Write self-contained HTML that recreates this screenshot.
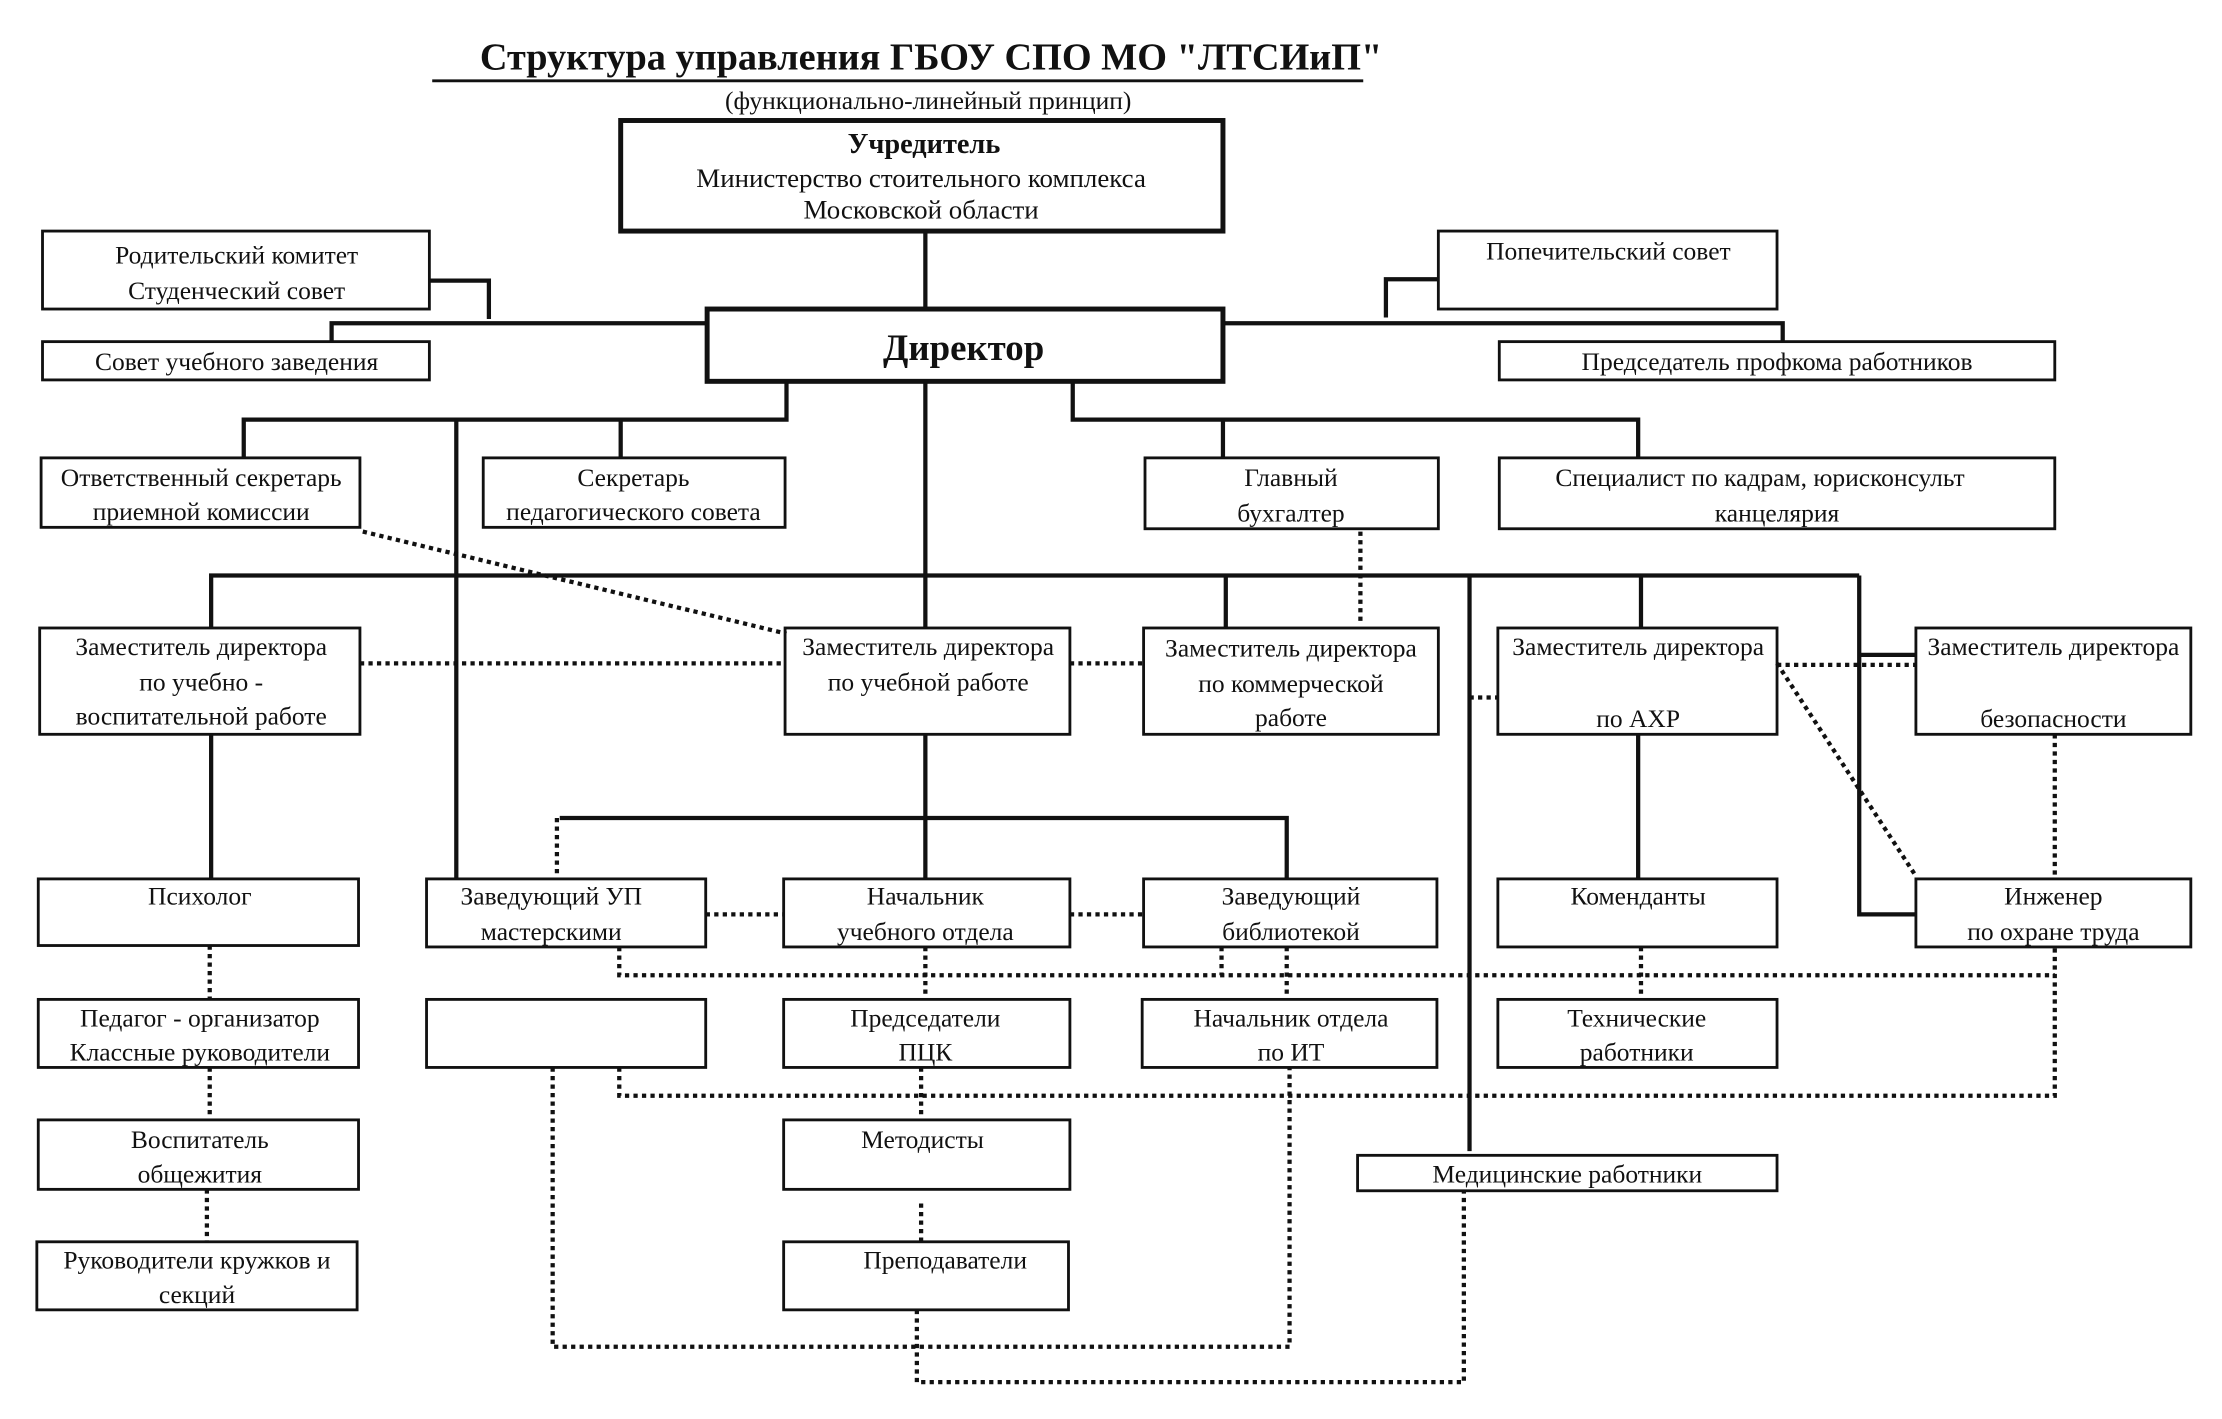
<!DOCTYPE html>
<html><head><meta charset="utf-8">
<style>
html,body{margin:0;padding:0;background:#fff;}
svg{display:block;}
text{font-family:"Liberation Serif","Noto Serif CJK SC",serif;font-size:18px;fill:#111;text-anchor:middle;}
.b{fill:none;stroke:#111;stroke-width:2;}
.bt{fill:none;stroke:#111;stroke-width:3.5;}
.s{fill:none;stroke:#111;stroke-width:3;}
.d{fill:none;stroke:#111;stroke-width:3;stroke-dasharray:3 3;}
</style></head>
<body>
<svg width="2222" height="1419" viewBox="0 0 1568 1001" preserveAspectRatio="none">
<rect width="1568" height="1001" fill="#fff"/>
<text x="657" y="49" style="font-size:27px;font-weight:bold">Структура управления ГБОУ СПО МО "ЛТСИиП"</text>
<line x1="305" y1="57" x2="962" y2="57" stroke="#111" stroke-width="2"/>
<text x="655" y="77" style="font-size:18px">(функционально-линейный принцип)</text>

<g class="s">
<path d="M653 163V218"/>
<path d="M303 198H345V225"/>
<path d="M234 241V228H499"/>
<path d="M863 228H1258V241"/>
<path d="M978 224V197H1015"/>
<path d="M555 269V296H172V323"/>
<path d="M438 296V323"/>
<path d="M322 296V620"/>
<path d="M757 269V296H1156V323"/>
<path d="M863 296V323"/>
<path d="M653 269V443"/>
<path d="M149 443V406H1312"/>
<path d="M865 406V443"/>
<path d="M1158 406V443"/>
<path d="M1037 406V812"/>
<path d="M1312 406V645H1352"/>
<path d="M1312 462H1352"/>
<path d="M149 518V620"/>
<path d="M653 518V620"/>
<path d="M395 577H908V620"/>
<path d="M1156 518V620"/>
</g>

<g class="d">
<path d="M256 375L555 447"/>
<path d="M960 375V440"/>
<path d="M254 468H554"/>
<path d="M755 468H807"/>
<path d="M1037 492H1057"/>
<path d="M1254 469H1352"/>
<path d="M1254 468L1352 618"/>
<path d="M393 577V620"/>
<path d="M1450 518V620"/>
<path d="M498 645H553"/>
<path d="M755 645H807"/>
<path d="M437 668V688H1450"/>
<path d="M653 668V705"/>
<path d="M862 668V688"/>
<path d="M908 668V705"/>
<path d="M1158 668V705"/>
<path d="M437 753V773H1450V668"/>
<path d="M148 667V705"/>
<path d="M148 753V790"/>
<path d="M146 839V876"/>
<path d="M650 753V790"/>
<path d="M650 849V876"/>
<path d="M390 753V950H910V753"/>
<path d="M647 924V975H1033V840"/>
</g>

<rect class="bt" x="438" y="85" width="425" height="78"/>
<text x="652" y="108" style="font-weight:bold;font-size:20px">Учредитель</text>
<text x="650" y="132" style="font-size:19px">Министерство стоительного комплекса</text>
<text x="650" y="154" style="font-size:19px">Московской области</text>

<rect class="bt" x="499" y="218" width="364" height="51"/>
<text x="680" y="254" style="font-weight:bold;font-size:26px">Директор</text>

<rect class="b" x="30" y="163" width="273" height="55"/>
<text x="167" y="186">Родительский комитет</text>
<text x="167" y="211">Студенческий совет</text>
<rect class="b" x="30" y="241" width="273" height="27"/>
<text x="167" y="261">Совет учебного заведения</text>

<rect class="b" x="1015" y="163" width="239" height="55"/>
<text x="1135" y="183">Попечительский совет</text>
<rect class="b" x="1058" y="241" width="392" height="27"/>
<text x="1254" y="261">Председатель профкома работников</text>

<rect class="b" x="29" y="323" width="225" height="49"/>
<text x="142" y="343">Ответственный секретарь</text>
<text x="142" y="367">приемной комиссии</text>
<rect class="b" x="341" y="323" width="213" height="49"/>
<text x="447" y="343">Секретарь</text>
<text x="447" y="367">педагогического совета</text>
<rect class="b" x="808" y="323" width="207" height="50"/>
<text x="911" y="343">Главный</text>
<text x="911" y="368">бухгалтер</text>
<rect class="b" x="1058" y="323" width="392" height="50"/>
<text x="1242" y="343">Специалист по кадрам, юрисконсульт</text>
<text x="1254" y="368">канцелярия</text>

<rect class="b" x="28" y="443" width="226" height="75"/>
<text x="142" y="462">Заместитель директора</text>
<text x="142" y="487">по учебно -</text>
<text x="142" y="511">воспитательной работе</text>
<rect class="b" x="554" y="443" width="201" height="75"/>
<text x="655" y="462">Заместитель директора</text>
<text x="655" y="487">по учебной работе</text>
<rect class="b" x="807" y="443" width="208" height="75"/>
<text x="911" y="463">Заместитель директора</text>
<text x="911" y="488">по коммерческой</text>
<text x="911" y="512">работе</text>
<rect class="b" x="1057" y="443" width="197" height="75"/>
<text x="1156" y="462">Заместитель директора</text>
<text x="1156" y="513">по АХР</text>
<rect class="b" x="1352" y="443" width="194" height="75"/>
<text x="1449" y="462">Заместитель директора</text>
<text x="1449" y="513">безопасности</text>

<rect class="b" x="27" y="620" width="226" height="47"/>
<text x="141" y="638">Психолог</text>
<rect class="b" x="301" y="620" width="197" height="48"/>
<text x="389" y="638">Заведующий УП</text>
<text x="389" y="663">мастерскими</text>
<rect class="b" x="553" y="620" width="202" height="48"/>
<text x="653" y="638">Начальник</text>
<text x="653" y="663">учебного отдела</text>
<rect class="b" x="807" y="620" width="207" height="48"/>
<text x="911" y="638">Заведующий</text>
<text x="911" y="663">библиотекой</text>
<rect class="b" x="1057" y="620" width="197" height="48"/>
<text x="1156" y="638">Коменданты</text>
<rect class="b" x="1352" y="620" width="194" height="48"/>
<text x="1449" y="638">Инженер</text>
<text x="1449" y="663">по охране труда</text>

<rect class="b" x="27" y="705" width="226" height="48"/>
<text x="141" y="724">Педагог - организатор</text>
<text x="141" y="748">Классные руководители</text>
<rect class="b" x="301" y="705" width="197" height="48"/>
<rect class="b" x="553" y="705" width="202" height="48"/>
<text x="653" y="724">Председатели</text>
<text x="653" y="748">ПЦК</text>
<rect class="b" x="806" y="705" width="208" height="48"/>
<text x="911" y="724">Начальник отдела</text>
<text x="911" y="748">по ИТ</text>
<rect class="b" x="1057" y="705" width="197" height="48"/>
<text x="1155" y="724">Технические</text>
<text x="1155" y="748">работники</text>

<rect class="b" x="27" y="790" width="226" height="49"/>
<text x="141" y="810">Воспитатель</text>
<text x="141" y="834">общежития</text>
<rect class="b" x="553" y="790" width="202" height="49"/>
<text x="651" y="810">Методисты</text>
<rect class="b" x="958" y="815" width="296" height="25"/>
<text x="1106" y="834">Медицинские работники</text>

<rect class="b" x="26" y="876" width="226" height="48"/>
<text x="139" y="895">Руководители кружков и</text>
<text x="139" y="919">секций</text>
<rect class="b" x="553" y="876" width="201" height="48"/>
<text x="667" y="895">Преподаватели</text>
</svg>
</body></html>
